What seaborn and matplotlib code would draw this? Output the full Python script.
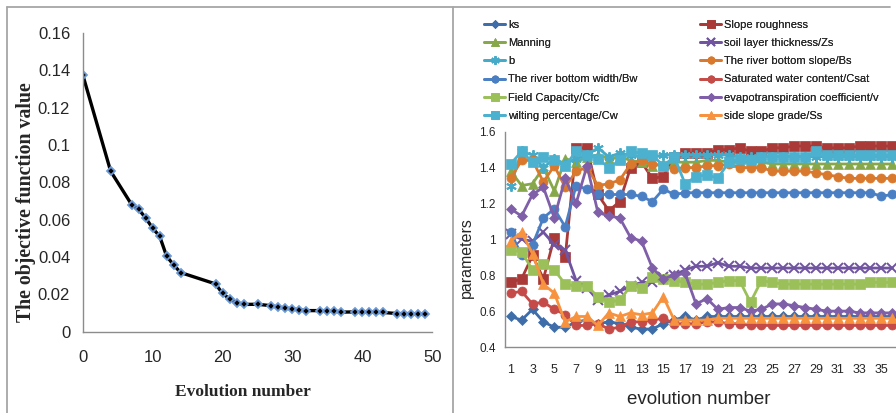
import matplotlib
matplotlib.use("Agg")
import matplotlib.pyplot as plt
from matplotlib.lines import Line2D
import seaborn as sns

sns.set_style("white")
plt.rcParams['font.family'] = ['Liberation Sans', 'DejaVu Sans']

# ---------------- data: left panel ----------------
evo_x = [0, 4, 7, 8, 9, 10, 11, 12, 13, 14, 19, 20, 21, 22, 23, 25, 27, 28, 29, 30,
         31, 32, 34, 35, 36, 37, 39, 40, 41, 42, 43, 45, 46, 47, 48, 49]
obj_val = [0.1377, 0.0859, 0.0680, 0.0655, 0.0609, 0.0554, 0.0511, 0.0404, 0.0357, 0.0316,
           0.0255, 0.0204, 0.0175, 0.0154, 0.0145, 0.0146, 0.0138, 0.0130, 0.0125, 0.0121,
           0.0116, 0.0112, 0.0112, 0.0109, 0.0109, 0.0104, 0.0105, 0.0105, 0.0104, 0.0102,
           0.0102, 0.0096, 0.0096, 0.0096, 0.0093, 0.0093]

# ---------------- data: right panel ----------------
gen = list(range(1, 37))
ks = [0.57, 0.55, 0.61, 0.54, 0.51, 0.51, 0.54, 0.55, 0.53, 0.54, 0.53, 0.51, 0.50, 0.50, 0.53, 0.55, 0.57, 0.55,
      0.57, 0.57, 0.57, 0.57, 0.57, 0.57, 0.57, 0.57, 0.57, 0.57, 0.57, 0.57, 0.57, 0.57, 0.57, 0.57, 0.57, 0.57]
slope_rough = [0.76, 0.78, 0.91, 0.78, 1.01, 0.90, 1.51, 1.51, 1.25, 1.16, 1.21, 1.40, 1.43, 1.34, 1.35, 1.46, 1.48, 1.48,
               1.48, 1.50, 1.50, 1.51, 1.49, 1.49, 1.51, 1.51, 1.52, 1.52, 1.52, 1.51, 1.51, 1.51, 1.52, 1.52, 1.52, 1.52]
manning = [1.38, 1.30, 1.31, 1.40, 1.27, 1.45, 1.43, 1.46, 1.47, 1.45, 1.46, 1.44, 1.43, 1.41, 1.42, 1.43, 1.43, 1.43,
           1.44, 1.44, 1.43, 1.43, 1.43, 1.43, 1.42, 1.42, 1.42, 1.42, 1.42, 1.42, 1.42, 1.42, 1.42, 1.42, 1.42, 1.42]
zs = [1.03, 1.00, 0.99, 1.04, 0.97, 0.94, 0.77, 0.73, 0.66, 0.69, 0.71, 0.74, 0.76, 0.76, 0.79, 0.80, 0.83, 0.85,
      0.85, 0.87, 0.85, 0.85, 0.84, 0.84, 0.84, 0.84, 0.84, 0.84, 0.84, 0.84, 0.84, 0.84, 0.84, 0.84, 0.84, 0.84]
b_par = [1.30, 1.49, 1.47, 1.40, 1.45, 1.42, 1.45, 1.47, 1.51, 1.46, 1.48, 1.47, 1.46, 1.46, 1.47, 1.47, 1.47, 1.47,
         1.47, 1.47, 1.47, 1.46, 1.46, 1.46, 1.46, 1.46, 1.46, 1.46, 1.46, 1.46, 1.46, 1.46, 1.46, 1.46, 1.46, 1.46]
bs = [1.34, 1.44, 1.44, 1.32, 1.41, 1.29, 1.38, 1.40, 1.30, 1.31, 1.33, 1.42, 1.44, 1.42, 1.41, 1.39, 1.40, 1.40,
      1.41, 1.41, 1.42, 1.40, 1.40, 1.40, 1.38, 1.38, 1.38, 1.38, 1.37, 1.36, 1.35, 1.34, 1.34, 1.34, 1.34, 1.34]
bw = [1.04, 0.91, 0.97, 1.12, 1.17, 1.07, 1.30, 1.28, 1.25, 1.25, 1.25, 1.25, 1.24, 1.21, 1.28, 1.25, 1.26, 1.26,
      1.26, 1.26, 1.26, 1.26, 1.26, 1.26, 1.26, 1.26, 1.26, 1.26, 1.26, 1.26, 1.26, 1.26, 1.26, 1.26, 1.24, 1.25]
csat = [0.70, 0.71, 0.64, 0.65, 0.61, 0.58, 0.52, 0.52, 0.53, 0.50, 0.51, 0.54, 0.54, 0.55, 0.56, 0.53, 0.53, 0.53,
        0.54, 0.54, 0.53, 0.53, 0.52, 0.52, 0.52, 0.52, 0.52, 0.52, 0.52, 0.52, 0.52, 0.52, 0.52, 0.52, 0.52, 0.52]
cfc = [0.94, 0.93, 0.83, 0.86, 0.83, 0.75, 0.74, 0.74, 0.68, 0.65, 0.66, 0.74, 0.73, 0.79, 0.78, 0.77, 0.76, 0.75,
       0.75, 0.76, 0.77, 0.77, 0.65, 0.77, 0.76, 0.75, 0.75, 0.75, 0.75, 0.75, 0.75, 0.75, 0.75, 0.76, 0.76, 0.76]
evap = [1.17, 1.13, 1.25, 1.29, 1.12, 1.34, 1.20, 1.41, 1.15, 1.13, 1.12, 1.01, 0.99, 0.84, 0.78, 0.80, 0.81, 0.64,
        0.67, 0.61, 0.62, 0.62, 0.60, 0.61, 0.64, 0.64, 0.63, 0.62, 0.61, 0.60, 0.60, 0.60, 0.59, 0.59, 0.59, 0.59]
cw = [1.42, 1.49, 1.43, 1.46, 1.44, 1.41, 1.49, 1.47, 1.45, 1.40, 1.44, 1.49, 1.48, 1.47, 1.41, 1.46, 1.31, 1.35,
      1.36, 1.34, 1.43, 1.45, 1.44, 1.46, 1.46, 1.46, 1.46, 1.46, 1.49, 1.47, 1.47, 1.47, 1.47, 1.47, 1.47, 1.47]
ss = [0.99, 1.04, 0.92, 0.75, 0.70, 0.54, 0.57, 0.57, 0.52, 0.59, 0.57, 0.59, 0.58, 0.59, 0.68, 0.55, 0.55, 0.55,
      0.55, 0.56, 0.56, 0.56, 0.56, 0.56, 0.56, 0.56, 0.56, 0.56, 0.56, 0.56, 0.56, 0.56, 0.56, 0.56, 0.56, 0.56]

series_names = ["ks", "Slope roughness", "Manning", "soil layer thickness/Zs", "b",
                "The river bottom slope/Bs", "The river bottom width/Bw",
                "Saturated water content/Csat", "Field Capacity/Cfc",
                "evapotranspiration coefficient/v", "wilting percentage/Cw", "side slope grade/Ss"]
series_vals = [ks, slope_rough, manning, zs, b_par, bs, bw, csat, cfc, evap, cw, ss]
colors = ["#3E6DAA", "#A93A37", "#86A84A", "#7054A0", "#45ABC8", "#D9792E",
          "#4A7FC3", "#C54B48", "#9BC05A", "#7F5FA8", "#4BB1CF", "#F7923E"]
markers = ["D", "s", "^", "x", (6, 2, 0), "o", "o", "o", "s", "D", "s", "^"]
msizes = [5.5, 6.5, 6.5, 6.5, 7.5, 6.5, 6.5, 6.5, 6.5, 5.5, 6.5, 6.5]

W, H = 896, 413
fig = plt.figure(figsize=(W / 100, H / 100), dpi=100)

def fx(px):
    return px / W

def fy(py):
    return 1 - py / H

GREY = "#8C8C8C"

# ---------------- left panel ----------------
L0, L1, T0, B0 = 82.7, 432.3, 33.0, 331.5
axL = fig.add_axes([fx(L0), fy(B0), fx(L1 - L0), (B0 - T0) / H])
sns.lineplot(x=evo_x, y=obj_val, ax=axL, color="black", linewidth=2.4,
             marker="D", markersize=4.5, markerfacecolor="black",
             markeredgecolor="#6C9BD8", markeredgewidth=1.3)
axL.set_xlim(0, 50)
axL.set_ylim(0, 0.16)
axL.set_xticks([0, 10, 20, 30, 40, 50])
axL.set_yticks([0, 0.02, 0.04, 0.06, 0.08, 0.1, 0.12, 0.14, 0.16])
axL.set_yticklabels(["0", "0.02", "0.04", "0.06", "0.08", "0.1", "0.12", "0.14", "0.16"])
for s in ["top", "right"]:
    axL.spines[s].set_visible(False)
for s in ["left", "bottom"]:
    axL.spines[s].set_color(GREY)
    axL.spines[s].set_linewidth(1.0)
axL.tick_params(axis="y", direction="out", length=4, width=1, color=GREY, labelsize=12, pad=5)
axL.tick_params(axis="x", direction="in", length=5, width=1, color=GREY, labelsize=12, pad=13)
axL.set_xlabel("Evolution number", family="Liberation Serif", fontweight="bold", fontsize=12.5)
axL.set_ylabel("The objective function value", family="Liberation Serif", fontweight="bold",
               fontsize=14.3)
axL.xaxis.set_label_coords((243 - L0) / (L1 - L0), -(384 - B0) / (B0 - T0))
axL.yaxis.set_label_coords(-(L0 - 36) / (L1 - L0), (B0 - 201.7) / (B0 - T0))

# ---------------- right panel ----------------
x0 = 510.7
step = 10.9
left_px = x0 - 0.5 * step
right_px = x0 + 35.5 * step
RB, RT = 347.0, 131.7
axR = fig.add_axes([fx(left_px), fy(RB), fx(right_px - left_px), (RB - RT) / H])
for name, vals, c, m, ms in zip(series_names, series_vals, colors, markers, msizes):
    lw_m = 1.4 if (m == "x" or isinstance(m, tuple)) else 0.5
    sns.lineplot(x=gen, y=vals, ax=axR, color=c, linewidth=2.0, marker=m, markersize=ms,
                 markeredgecolor=c, markerfacecolor=c, markeredgewidth=lw_m,
                 label=name, legend=False)
if axR.get_legend() is not None:
    axR.get_legend().remove()
axR.set_xlim(0.5, 36.5)
axR.set_ylim(0.4, 1.6)
axR.set_xticks(list(range(1, 36, 2)))
axR.set_yticks([0.4, 0.6, 0.8, 1.0, 1.2, 1.4, 1.6])
axR.set_yticklabels(["0.4", "0.6", "0.8", "1", "1.2", "1.4", "1.6"])
for s in ["top", "right"]:
    axR.spines[s].set_visible(False)
for s in ["left", "bottom"]:
    axR.spines[s].set_color(GREY)
    axR.spines[s].set_linewidth(1.0)
axR.tick_params(axis="y", direction="out", length=3, width=1, color=GREY, labelsize=8.5, pad=4)
axR.tick_params(axis="x", length=0, labelsize=9, pad=12)
axR.set_xlabel("evolution number", fontsize=13.5)
axR.set_ylabel("parameters", fontsize=11.5)
axR.xaxis.set_label_coords((699 - left_px) / (right_px - left_px), -(391 - RB) / (RB - RT))
axR.yaxis.set_label_coords(-(left_px - 474) / (right_px - left_px), (RB - 258) / (RB - RT))

h_all, l_all = axR.get_legend_handles_labels()
lut = dict(zip(l_all, h_all))
col1 = ["ks", "Manning", "b", "The river bottom width/Bw", "Field Capacity/Cfc", "wilting percentage/Cw"]
col2 = ["Slope roughness", "soil layer thickness/Zs", "The river bottom slope/Bs",
        "Saturated water content/Csat", "evapotranspiration coefficient/v", "side slope grade/Ss"]
for cols, xa in ((col1, 484), (col2, 700)):
    lg = fig.legend([lut[k] for k in cols], cols, loc="upper left",
                    bbox_to_anchor=(fx(xa), fy(19.5)), frameon=False, fontsize=8,
                    borderpad=0, borderaxespad=0, handlelength=1.9, handletextpad=0.3,
                    labelspacing=0.75, markerscale=0.8)
    fig.add_artist(lg)

# ---------------- frame lines ----------------
fig.add_artist(Line2D([fx(7), fx(890)], [fy(7), fy(7)], color="#A6A6A6", lw=1.3))
fig.add_artist(Line2D([fx(7), fx(7)], [fy(7), 0], color="#A6A6A6", lw=1.3))
fig.add_artist(Line2D([fx(452.5), fx(452.5)], [fy(7), 0], color="#A6A6A6", lw=1.3))

fig.savefig("out.png", dpi=100)
